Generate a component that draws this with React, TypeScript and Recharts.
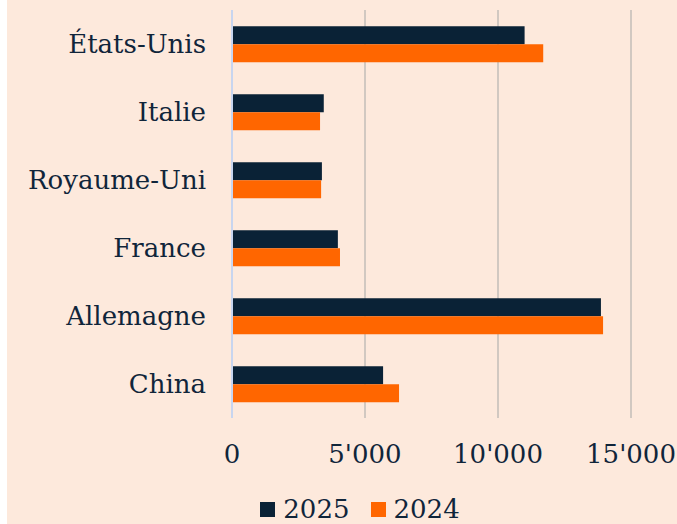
import React from 'react';
import { BarChart, Bar, XAxis, YAxis, CartesianGrid, Legend } from 'recharts';

const countries = ['États-Unis', 'Italie', 'Royaume-Uni', 'France', 'Allemagne', 'China'];
const values2025 = [11000, 3450, 3380, 3980, 13870, 5680];
const values2024 = [11700, 3310, 3350, 4060, 13950, 6280];
const xTicks = [0, 5000, 10000, 15000];

const NAVY = '#0a2236';
const ORANGE = '#ff6600';
const TEXT = '#10253a';
const FONT = '"DejaVu Serif", Georgia, serif';

const data = countries.map((name, i) => ({
  name,
  y2025: values2025[i],
  y2024: values2024[i],
}));

const fmt = (v: number) => String(v).replace(/\B(?=(\d{3})+(?!\d))/g, "'");

const LegendContent = () => (
  <div style={{ display: 'flex', justifyContent: 'center', paddingTop: 12, paddingLeft: 36, fontFamily: FONT, fontSize: 26, lineHeight: '26px', color: TEXT }}>
    {[
      { label: '2025', color: NAVY },
      { label: '2024', color: ORANGE },
    ].map((it, i) => (
      <div key={it.label} style={{ display: 'flex', alignItems: 'center', marginLeft: i ? 21 : 0 }}>
        <span style={{ width: 15, height: 15, background: it.color, marginRight: 8, display: 'inline-block' }} />
        <span>{it.label}</span>
      </div>
    ))}
  </div>
);

const EnergyChart: React.FC = () => {
  return (
    <div style={{ position: 'fixed', left: 7, top: 0, width: 670, height: 524, background: '#fde9dc', overflow: 'hidden' }}>
      <BarChart
        width={670}
        height={524}
        data={data}
        layout="vertical"
        margin={{ top: 10, right: 46, left: 0, bottom: 0 }}
        barCategoryGap="24%"
        barGap={0}
      >
        <CartesianGrid horizontal={false} stroke="#c2bdb9" strokeWidth={1.5} />
        <XAxis
          type="number"
          domain={[0, 15000]}
          ticks={xTicks}
          tickFormatter={fmt}
          axisLine={false}
          tickLine={false}
          tickSize={0}
          tickMargin={27}
          height={66}
          tick={{ fill: TEXT, fontFamily: FONT, fontSize: 26 }}
        />
        <YAxis
          type="category"
          dataKey="name"
          width={225}
          axisLine={{ stroke: '#c8d5ef', strokeWidth: 2 }}
          tickLine={false}
          tickSize={0}
          tickMargin={26}
          tick={{ fill: TEXT, fontFamily: FONT, fontSize: 26 }}
        />
        <Legend verticalAlign="bottom" content={<LegendContent />} wrapperStyle={{ left: 0, width: 670, height: 40 }} />
        <Bar dataKey="y2025" name="2025" fill={NAVY} isAnimationActive={false} />
        <Bar dataKey="y2024" name="2024" fill={ORANGE} isAnimationActive={false} />
      </BarChart>
    </div>
  );
};

export default function App() {
  return <EnergyChart />;
}
